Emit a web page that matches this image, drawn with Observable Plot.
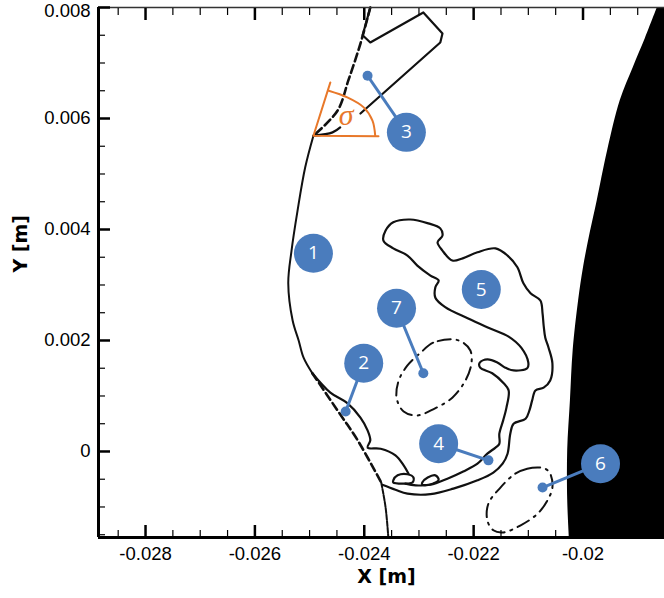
<!DOCTYPE html>
<html><head><meta charset="utf-8">
<script src="https://cdn.jsdelivr.net/npm/d3@7"></script>
<script src="https://cdn.jsdelivr.net/npm/@observablehq/plot@0.6"></script>
<style>body{margin:0;background:#fff} #chart{width:664px;height:598px}</style>
</head><body><div id="chart"></div>
<script>
// ---- axes ----
const xDomain = [-0.02886, -0.01851];
const yDomain = [-0.00155, 0.00800];
const xMajor = [-0.028, -0.026, -0.024, -0.022, -0.020];
const xMajorLabels = ["-0.028", "-0.026", "-0.024", "-0.022", "-0.02"];
const xMinor = [-0.0285, -0.0275, -0.027, -0.0265, -0.0255, -0.025, -0.0245, -0.0235, -0.023, -0.0225, -0.0215, -0.021, -0.0205, -0.0195, -0.019];
const yMajor = [0, 0.002, 0.004, 0.006, 0.008];
const yMajorLabels = ["0", "0.002", "0.004", "0.006", "0.008"];
const yMinor = [-0.0015, -0.001, -0.0005, 0.0005, 0.001, 0.0015, 0.0025, 0.003, 0.0035, 0.0045, 0.005, 0.0055, 0.0065, 0.007, 0.0075];

// ---- curves [x, y] in metres ----
const bodyEdge = [[-0.01864,0.00800],[-0.01886,0.00744],[-0.01908,0.00692],[-0.01932,0.00632],[-0.01955,0.00542],[-0.01974,0.00452],[-0.01987,0.00393],[-0.01999,0.00332],[-0.02008,0.00272],[-0.02018,0.00182],[-0.02023,0.00092],[-0.02028,0.00002],[-0.02028,-0.00088],[-0.02025,-0.00155]];
const shockDashTop = [[-0.02389,0.00800],[-0.02407,0.00735],[-0.02429,0.00669],[-0.02449,0.00614],[-0.02493,0.00569]];
const shockSolid = [[-0.02493,0.00569],[-0.02508,0.00512],[-0.02522,0.00434],[-0.02533,0.00362],[-0.02539,0.00303],[-0.02531,0.00236],[-0.02520,0.00200],[-0.02511,0.00169],[-0.02495,0.00141]];
const shockDashLow = [[-0.02495,0.00141],[-0.02449,0.00074],[-0.02412,0.00020],[-0.02369,-0.00056]];
const shockStem = [[-0.02369,-0.00056],[-0.02361,-0.00101],[-0.02356,-0.00155]];
const region3 = [[-0.02389,0.00800],[-0.02403,0.00750],[-0.02389,0.00737],[-0.02292,0.00791],[-0.02257,0.00753],[-0.02261,0.00737],[-0.02407,0.00609]];
const reflected = [[-0.02444,0.00584],[-0.02458,0.00575],[-0.02493,0.00569]];
const region2 = [[-0.02495,0.00141],[-0.02462,0.00106],[-0.02431,0.00087],[-0.02407,0.00061],[-0.02394,0.00038],[-0.02389,0.00020],[-0.02394,0.00007],[-0.02370,0.00005],[-0.02343,-0.00007],[-0.02328,-0.00025],[-0.02319,-0.00040]];
const blob1 = [[-0.02347,-0.00052],[-0.02339,-0.00043],[-0.02321,-0.00041],[-0.02310,-0.00047],[-0.02312,-0.00056],[-0.02328,-0.00058],[-0.02347,-0.00056]];
const blob2 = [[-0.02294,-0.00056],[-0.02284,-0.00047],[-0.02270,-0.00043],[-0.02264,-0.00051],[-0.02275,-0.00058],[-0.02294,-0.00060]];
const mainContour = [[-0.02367,-0.00060],[-0.02343,-0.00069],[-0.02321,-0.00076],[-0.02279,-0.00077],[-0.02237,-0.00067],[-0.02193,-0.00052],[-0.02164,-0.00038],[-0.02147,-0.00022],[-0.02138,-0.00004],[-0.02133,0.00032],[-0.02127,0.00050],[-0.02105,0.00059],[-0.02098,0.00074],[-0.02093,0.00092],[-0.02087,0.00110],[-0.02072,0.00115],[-0.02060,0.00128],[-0.02056,0.00159],[-0.02063,0.00187],[-0.02069,0.00205],[-0.02072,0.00227],[-0.02074,0.00249],[-0.02078,0.00272],[-0.02096,0.00285],[-0.02109,0.00303],[-0.02120,0.00332],[-0.02138,0.00353],[-0.02160,0.00366],[-0.02193,0.00359],[-0.02220,0.00348],[-0.02239,0.00344],[-0.02257,0.00362],[-0.02266,0.00377],[-0.02257,0.00389],[-0.02261,0.00402],[-0.02283,0.00411],[-0.02316,0.00418],[-0.02347,0.00413],[-0.02361,0.00398],[-0.02365,0.00380],[-0.02347,0.00366],[-0.02321,0.00353],[-0.02303,0.00335],[-0.02279,0.00317],[-0.02264,0.00308],[-0.02270,0.00296],[-0.02270,0.00277],[-0.02252,0.00260],[-0.02211,0.00240],[-0.02173,0.00223],[-0.02136,0.00207],[-0.02113,0.00187],[-0.02100,0.00160],[-0.02102,0.00150],[-0.02127,0.00146],[-0.02142,0.00151],[-0.02156,0.00160],[-0.02175,0.00166],[-0.02189,0.00160],[-0.02188,0.00151],[-0.02166,0.00141],[-0.02146,0.00124],[-0.02136,0.00110],[-0.02140,0.00079],[-0.02146,0.00056],[-0.02153,0.00032],[-0.02153,0.00014],[-0.02160,0.00007],[-0.02175,-0.00004],[-0.02193,-0.00022],[-0.02219,-0.00036],[-0.02248,-0.00049],[-0.02279,-0.00060],[-0.02306,-0.00061],[-0.02325,-0.00058]];
const vortex7 = [[-0.02237,0.00202],[-0.02274,0.00196],[-0.02297,0.00178],[-0.02321,0.00155],[-0.02337,0.00128],[-0.02341,0.00097],[-0.02328,0.00072],[-0.02303,0.00065],[-0.02274,0.00076],[-0.02239,0.00097],[-0.02215,0.00128],[-0.02204,0.00159],[-0.02206,0.00182],[-0.02219,0.00196]];
const vortex6 = [[-0.02078,-0.00029],[-0.02102,-0.00031],[-0.02124,-0.00040],[-0.02151,-0.00065],[-0.02173,-0.00094],[-0.02175,-0.00124],[-0.02164,-0.00142],[-0.02146,-0.00146],[-0.02114,-0.00133],[-0.02083,-0.00112],[-0.02065,-0.00088],[-0.02056,-0.00065],[-0.02060,-0.00040],[-0.02069,-0.00031]];

// ---- shock angle sigma ----
const angleLines = [[-0.02462,0.00665],[-0.02493,0.00569],[-0.02374,0.00568]];
const angleArc = [[-0.02465,0.00650],[-0.02431,0.00638],[-0.02401,0.00620],[-0.02385,0.00596],[-0.02380,0.00569]];
const sigmaLabel = ["σ"];
const sigmaPos = [-0.02433, 0.00606];

// ---- numbered callouts ----
const calloutLabels = ["1", "2", "3", "4", "5", "6", "7"];
const calloutX = [-0.02493, -0.02401, -0.02323, -0.02264, -0.02186, -0.01968, -0.02341];
const calloutY = [0.00357, 0.00159, 0.00575, 0.00014, 0.00292, -0.00022, 0.00258];
const pointerX = [null, -0.02434, -0.02394, -0.02173, null, -0.02074, -0.02292];
const pointerY = [null, 0.00072, 0.00677, -0.00016, null, -0.00065, 0.00141];

const callouts = calloutLabels.map((t, i) => ({t, x: calloutX[i], y: calloutY[i], px: pointerX[i], py: pointerY[i]}));
const pointers = callouts.filter(d => d.px != null);

const blue = "#4a7cbd";
const orange = "#e8782a";
const ink = "#111";
const fx = d => xMajorLabels[xMajor.indexOf(d)];
const fy = d => yMajorLabels[yMajor.indexOf(d)];
const yInner = yMajor.slice(0, -1);
const yTop = yMajor.slice(-1);
const lineOpt = {x: d => d[0], y: d => d[1], stroke: ink, strokeWidth: 2.2, curve: "catmull-rom"};

const chart = Plot.plot({
  width: 664, height: 598,
  marginLeft: 98, marginRight: 0, marginTop: 7, marginBottom: 61,
  x: {domain: xDomain, axis: null},
  y: {domain: yDomain, axis: null},
  style: {fontFamily: "'Liberation Sans', Arial, sans-serif", fontSize: "18px", background: "white", color: "black", overflow: "visible"},
  marks: [
    Plot.areaX(bodyEdge, {x1: d => d[0], x2: xDomain[1], y: d => d[1], fill: "black", curve: "catmull-rom", clip: true}),
    Plot.line(shockDashTop, {...lineOpt, strokeWidth: 2.6, strokeDasharray: "8,4"}),
    Plot.line(shockSolid, {...lineOpt, strokeWidth: 2}),
    Plot.line(shockDashLow, {...lineOpt, strokeWidth: 2.6, strokeDasharray: "8,4"}),
    Plot.line(shockStem, {...lineOpt, strokeWidth: 2, strokeDasharray: "5,1.5"}),
    Plot.line(region3, {...lineOpt, curve: "linear"}),
    Plot.line(reflected, lineOpt),
    Plot.line(region2, lineOpt),
    Plot.line(blob1, {...lineOpt, curve: "catmull-rom-closed"}),
    Plot.line(blob2, {...lineOpt, curve: "catmull-rom-closed"}),
    Plot.line(mainContour, lineOpt),
    Plot.line(vortex7, {...lineOpt, strokeWidth: 2, strokeDasharray: "13,6,2,6", curve: "catmull-rom-closed"}),
    Plot.line(vortex6, {...lineOpt, strokeWidth: 2, strokeDasharray: "13,6,2,6", curve: "catmull-rom-closed"}),
    Plot.line(angleLines, {x: d => d[0], y: d => d[1], stroke: orange, strokeWidth: 2}),
    Plot.line(angleArc, {x: d => d[0], y: d => d[1], stroke: orange, strokeWidth: 2, curve: "catmull-rom"}),
    Plot.text(sigmaLabel, {x: sigmaPos[0], y: sigmaPos[1], text: d => d, fill: orange, fontSize: 30, fontStyle: "italic", fontFamily: "'Liberation Serif', serif"}),
    Plot.link(pointers, {x1: "x", y1: "y", x2: "px", y2: "py", stroke: blue, strokeWidth: 3}),
    Plot.dot(pointers, {x: "px", y: "py", r: 5, fill: blue}),
    Plot.dot(callouts, {x: "x", y: "y", r: 19.5, fill: blue}),
    Plot.text(callouts, {x: "x", y: "y", text: "t", fill: "white", fontSize: 19, fontFamily: "'Open Sans', sans-serif"}),
    // frame
    Plot.ruleX([xDomain[0]], {stroke: "black", strokeWidth: 3}),
    Plot.ruleY([yDomain[0]], {stroke: "black", strokeWidth: 3}),
    Plot.ruleY([yDomain[1]], {stroke: "#333", strokeWidth: 1.5}),
    // ticks (inward)
    Plot.axisX(xMajor, {anchor: "bottom", tickSize: -12, strokeWidth: 2.5, fill: "none", label: null}),
    Plot.axisX(xMinor, {anchor: "bottom", tickSize: -7, strokeWidth: 1.2, fill: "none", label: null}),
    Plot.axisX(xMajor, {anchor: "top", tickSize: -12, strokeWidth: 2.5, fill: "none", label: null}),
    Plot.axisX(xMinor, {anchor: "top", tickSize: -7, strokeWidth: 1.2, fill: "none", label: null}),
    Plot.axisY(yMajor, {anchor: "left", tickSize: -12, strokeWidth: 2.5, fill: "none", label: null}),
    Plot.axisY(yMinor, {anchor: "left", tickSize: -7, strokeWidth: 1.2, fill: "none", label: null}),
    // tick labels
    Plot.axisX(xMajor, {anchor: "bottom", tickSize: 0, tickPadding: 9, tickFormat: fx, label: null, fontSize: 18.5}),
    Plot.axisY(yInner, {anchor: "left", tickSize: 0, tickPadding: 8, tickFormat: fy, label: null, fontSize: 18.5}),
    Plot.axisY(yTop, {anchor: "left", tickSize: 0, tickPadding: 8, tickFormat: fy, label: null, fontSize: 18.5, dy: 4}),
    // axis titles
    Plot.text(["X [m]"], {frameAnchor: "bottom", dx: 5, dy: 45, text: d => d, fontSize: 19, fontWeight: "bold", fontFamily: "'DejaVu Sans', sans-serif"}),
    Plot.text(["Y [m]"], {frameAnchor: "left", dx: -78, rotate: -90, text: d => d, fontSize: 19, fontWeight: "bold", fontFamily: "'DejaVu Sans', sans-serif"})
  ]
});
document.getElementById("chart").append(chart);
</script></body></html>
